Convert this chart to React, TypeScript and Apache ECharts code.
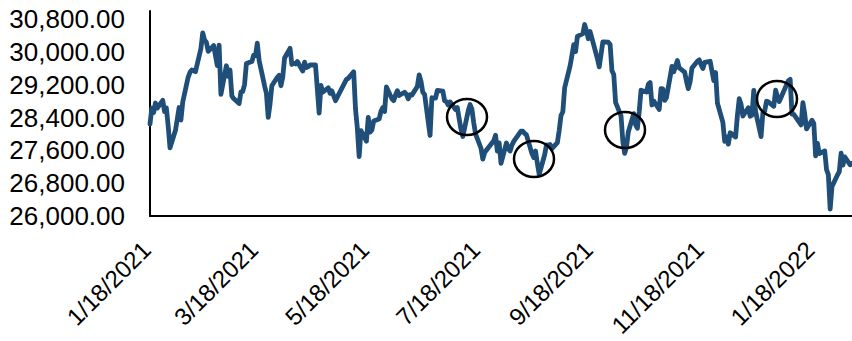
import React, { useEffect, useRef } from "react";
import * as echarts from "echarts";

const tradeDates: string[] = [
  "2021-01-18","2021-01-19","2021-01-20","2021-01-21","2021-01-22","2021-01-25","2021-01-26","2021-01-27","2021-01-28","2021-01-29",
  "2021-02-01","2021-02-02","2021-02-03","2021-02-04","2021-02-05","2021-02-08","2021-02-09","2021-02-10","2021-02-12","2021-02-15","2021-02-16","2021-02-17","2021-02-18","2021-02-19","2021-02-22","2021-02-24","2021-02-25","2021-02-26",
  "2021-03-01","2021-03-02","2021-03-03","2021-03-04","2021-03-05","2021-03-08","2021-03-09","2021-03-10","2021-03-11","2021-03-12","2021-03-15","2021-03-16","2021-03-17","2021-03-18","2021-03-19","2021-03-22","2021-03-23","2021-03-24","2021-03-25","2021-03-26","2021-03-29","2021-03-30","2021-03-31",
  "2021-04-01","2021-04-02","2021-04-05","2021-04-06","2021-04-07","2021-04-08","2021-04-09","2021-04-12","2021-04-13","2021-04-14","2021-04-15","2021-04-16","2021-04-19","2021-04-20","2021-04-21","2021-04-22","2021-04-23","2021-04-26","2021-04-27","2021-04-28","2021-04-30",
  "2021-05-06","2021-05-07","2021-05-10","2021-05-11","2021-05-12","2021-05-13","2021-05-14","2021-05-17","2021-05-18","2021-05-19","2021-05-20","2021-05-21","2021-05-24","2021-05-25","2021-05-26","2021-05-27","2021-05-28","2021-05-31",
  "2021-06-01","2021-06-02","2021-06-03","2021-06-04","2021-06-07","2021-06-08","2021-06-09","2021-06-10","2021-06-11","2021-06-14","2021-06-15","2021-06-16","2021-06-17","2021-06-18","2021-06-21","2021-06-22","2021-06-23","2021-06-24","2021-06-25","2021-06-28","2021-06-29","2021-06-30",
  "2021-07-01","2021-07-02","2021-07-05","2021-07-06","2021-07-07","2021-07-08","2021-07-09","2021-07-12","2021-07-13","2021-07-14","2021-07-15","2021-07-16","2021-07-19","2021-07-20","2021-07-21","2021-07-26","2021-07-27","2021-07-28","2021-07-29","2021-07-30",
  "2021-08-02","2021-08-03","2021-08-04","2021-08-05","2021-08-06","2021-08-10","2021-08-11","2021-08-12","2021-08-13","2021-08-16","2021-08-17","2021-08-18","2021-08-19","2021-08-20","2021-08-23","2021-08-24","2021-08-25","2021-08-26","2021-08-27","2021-08-30","2021-08-31",
  "2021-09-01","2021-09-02","2021-09-03","2021-09-06","2021-09-07","2021-09-08","2021-09-09","2021-09-10","2021-09-13","2021-09-14","2021-09-15","2021-09-16","2021-09-17","2021-09-21","2021-09-22","2021-09-24","2021-09-27","2021-09-28","2021-09-29","2021-09-30",
  "2021-10-01","2021-10-04","2021-10-05","2021-10-06","2021-10-07","2021-10-08","2021-10-11","2021-10-12","2021-10-13","2021-10-14","2021-10-15","2021-10-18","2021-10-19","2021-10-20","2021-10-21","2021-10-22","2021-10-25","2021-10-26","2021-10-27","2021-10-28","2021-10-29",
  "2021-11-01","2021-11-02","2021-11-04","2021-11-05","2021-11-08","2021-11-09","2021-11-10","2021-11-11","2021-11-12","2021-11-15","2021-11-16","2021-11-17","2021-11-18","2021-11-19","2021-11-22","2021-11-24","2021-11-25","2021-11-26","2021-11-29","2021-11-30",
  "2021-12-01","2021-12-02","2021-12-03","2021-12-06","2021-12-07","2021-12-08","2021-12-09","2021-12-10","2021-12-13","2021-12-14","2021-12-15","2021-12-16","2021-12-17","2021-12-20","2021-12-21","2021-12-22","2021-12-23","2021-12-24","2021-12-27","2021-12-28","2021-12-29","2021-12-30",
  "2022-01-04","2022-01-05","2022-01-06","2022-01-07","2022-01-11","2022-01-12","2022-01-13","2022-01-14","2022-01-17","2022-01-18","2022-01-19","2022-01-20","2022-01-21","2022-01-24","2022-01-25","2022-01-26","2022-01-27","2022-01-28","2022-01-31",
  "2022-02-01","2022-02-02","2022-02-03","2022-02-04","2022-02-07","2022-02-08"
];

const closes: number[] = [
  28242,28633,28523,28756,28631,28822,28546,28635,28197,27663,
  28091,28362,28646,28341,28779,29388,29505,29562,29520,30084,30467,30292,30236,30017,30156,29671,30168,28966,
  29664,29408,29559,28930,28864,28743,29028,29036,29212,29717,29766,29921,29914,30216,29792,29174,28995,28405,28729,29176,29384,29432,29178,
  29388,29854,30089,29696,29730,29708,29768,29538,29751,29620,29642,29683,29685,29100,28508,29188,29020,29126,28991,29053,28812,
  29331,29357,29518,28608,28147,27448,28084,27824,28406,28044,28098,28317,28364,28553,28642,28549,29149,28860,
  28814,28946,29058,28941,29019,28963,28860,28958,28948,29161,29441,29291,29018,28964,27964,28884,28874,28875,29066,29048,28812,28791,
  28707,28783,28598,28643,28366,28118,27940,28569,28718,28608,28279,28003,27652,27388,27548,27833,27970,27581,27782,27283,
  27781,27641,27584,27728,27820,28070,28069,28015,27977,27523,27424,27585,27281,27013,27494,27732,27724,27742,27641,27789,28089,
  28451,28543,29128,29660,29916,30181,30008,30381,30447,30670,30511,30323,30500,29840,29639,30248,30240,30183,29544,29453,
  28771,28444,27822,27528,27678,28048,28498,28230,28140,28550,29068,29025,29215,29255,28708,28804,28600,29106,29098,28820,28892,
  29647,29520,29794,29611,29507,29285,29106,29277,29609,29776,29808,29688,29598,29745,29774,29302,29499,28751,28283,27821,
  27936,27753,28030,27927,28456,28861,28725,28438,28640,28433,28460,29066,28546,27938,28518,28562,28798,28783,28676,29069,28907,28792,
  29301,29332,28487,28479,28222,28765,28489,28124,28334,28257,27467,27772,27522,27588,27131,27011,26170,26717,27002,
  27078,27533,27241,27440,27249,27284
];

const xLabels: string[] = ["1/18/2021", "3/18/2021", "5/18/2021", "7/18/2021", "9/18/2021", "11/18/2021", "1/18/2022"];
const yLabels: number[] = [26000, 26800, 27600, 28400, 29200, 30000, 30800];

const startDate = "2021-01-18";
const endDate = "2022-02-08";

// annotation ellipses (pixel centres)
const circles: [number, number][] = [[467, 117], [534, 159], [625, 130], [777, 99]];

const toUTC = (iso: string) => {
  const [y, m, d] = iso.split("-").map(Number);
  return Date.UTC(y, m - 1, d);
};
const DAY = 86400000;

export default function App() {
  const ref = useRef<HTMLDivElement>(null);
  useEffect(() => {
    document.body.style.margin = "0";
    if (!ref.current) return;
    const chart = echarts.init(ref.current, null, { renderer: "svg" });
    const t0 = toUTC(startDate);
    const nDays = Math.round((toUTC(endDate) - t0) / DAY);
    const categories: string[] = [];
    for (let i = 0; i <= nDays; i++) {
      const d = new Date(t0 + i * DAY);
      categories.push(`${d.getUTCMonth() + 1}/${d.getUTCDate()}/${d.getUTCFullYear()}`);
    }
    const data = tradeDates.map((iso, i) => [Math.round((toUTC(iso) - t0) / DAY), closes[i]]);
    const font = "'Liberation Sans', Arial, sans-serif";
    chart.setOption({
      animation: false,
      grid: { left: 150, top: 11, right: 0, bottom: 125, containLabel: false, outerBoundsMode: "none" },
      xAxis: {
        type: "category",
        data: categories,
        boundaryGap: false,
        axisLine: { show: true, lineStyle: { color: "#000", width: 2 } },
        axisTick: { show: false },
        splitLine: { show: false },
        axisLabel: {
          interval: (_i: number, v: string) => xLabels.includes(v),
          rotate: 45,
          align: "right",
          verticalAlign: "middle",
          padding: [0, 5, 0, 0],
          margin: 26,
          color: "#000",
          fontSize: 24,
          fontFamily: font,
          hideOverlap: false,
        },
      },
      yAxis: {
        type: "value",
        min: 26000,
        max: 31000,
        axisLine: { show: true, lineStyle: { color: "#000", width: 2 } },
        axisTick: { show: false },
        splitLine: { show: false },
        axisLabel: {
          customValues: yLabels,
          margin: 25,
          color: "#000",
          fontSize: 26,
          fontFamily: font,
          formatter: (v: number) => v.toLocaleString("en-US", { minimumFractionDigits: 2, maximumFractionDigits: 2 }),
        },
      },
      series: [
        {
          type: "line",
          data,
          showSymbol: false,
          lineStyle: { color: "#1F4E79", width: 4.8, join: "round", cap: "round" },
          itemStyle: { color: "#1F4E79" },
        },
      ],
      graphic: circles.map(([cx, cy]) => ({
        type: "ellipse",
        shape: { cx, cy, rx: 20, ry: 18 },
        style: { fill: "none", stroke: "#000", lineWidth: 2.5 },
        z: 100,
      })),
    });
    return () => chart.dispose();
  }, []);
  return <div ref={ref} style={{ width: 852, height: 341 }} />;
}
